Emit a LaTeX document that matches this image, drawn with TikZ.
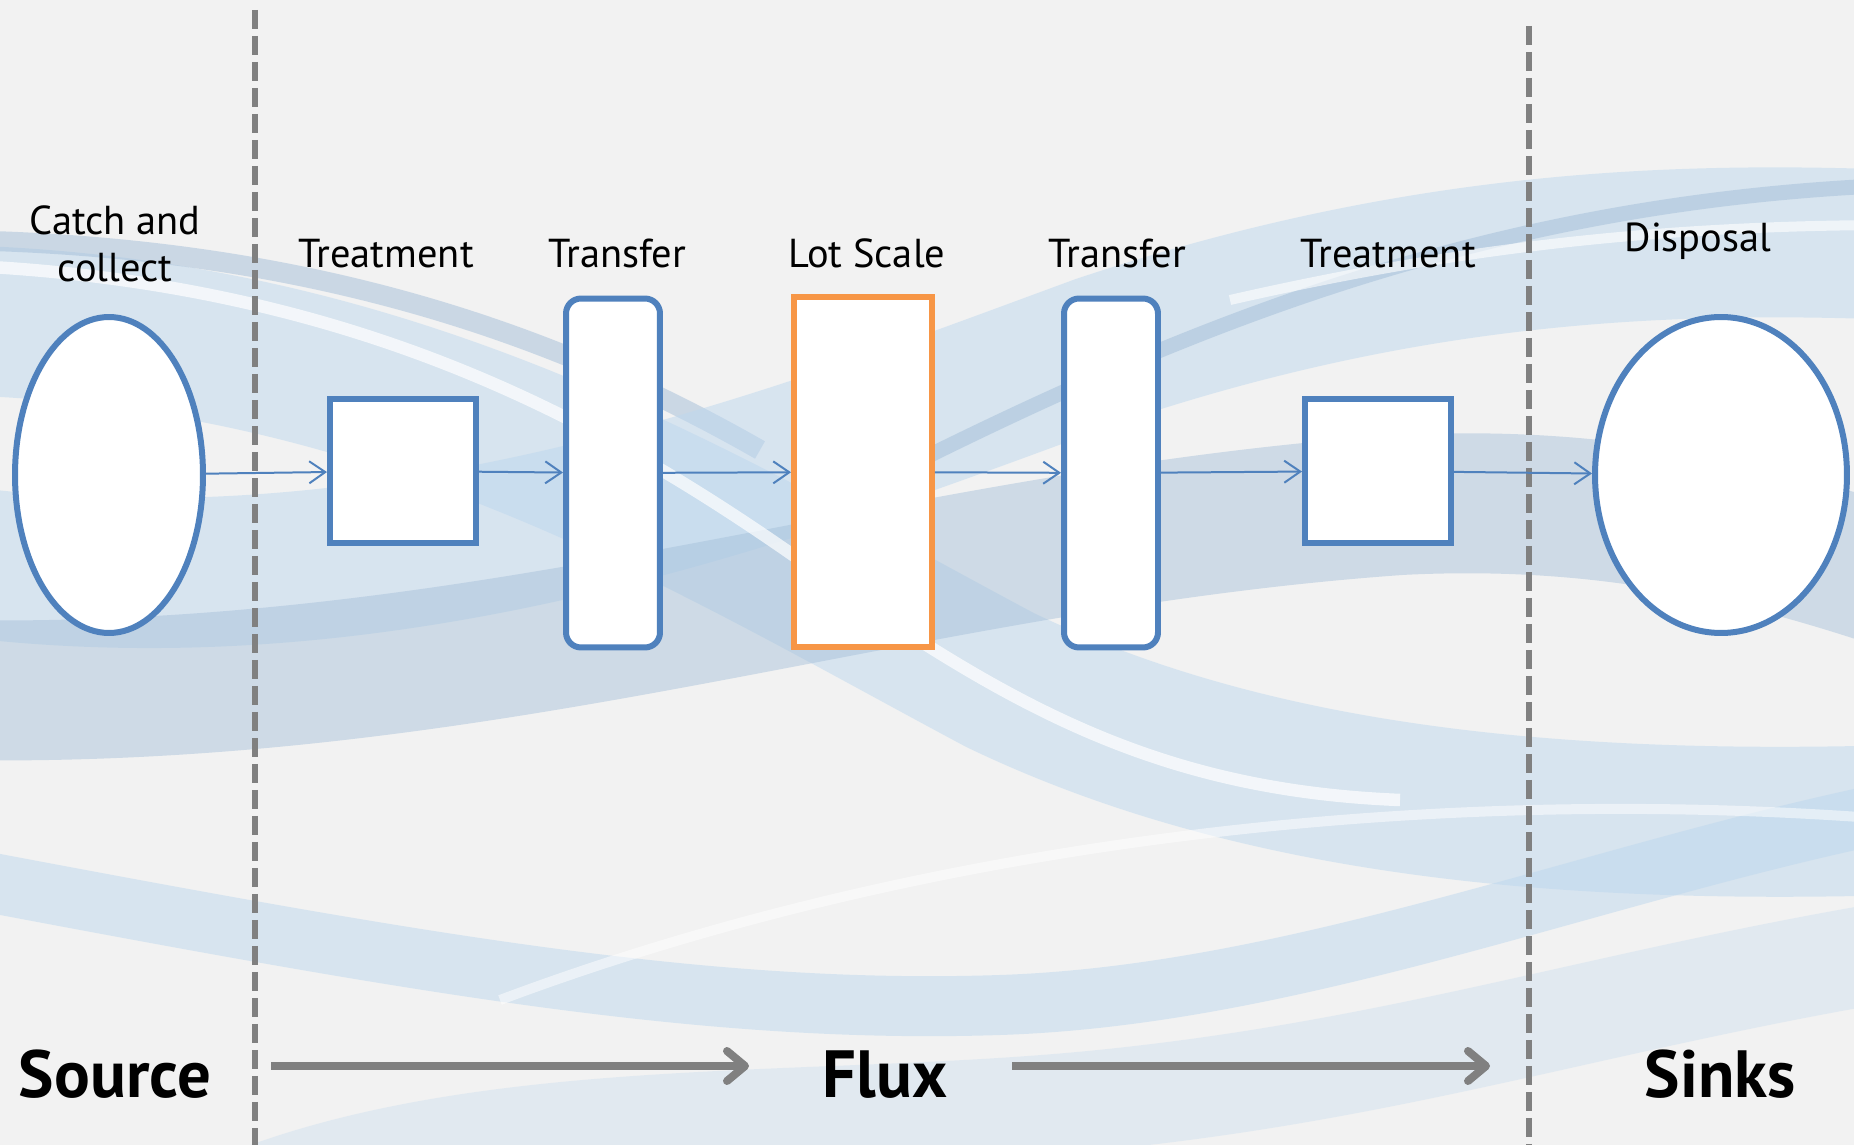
\documentclass[tikz,border=0pt]{standalone}
\usepackage{fontspec}
\setmainfont{PT Sans}
\usetikzlibrary{arrows.meta}
\usetikzlibrary{shapes}
\definecolor{bgGray}{HTML}{F2F2F2}
\definecolor{boxBlue}{HTML}{4F81BD}
\definecolor{boxOrange}{HTML}{F79646}
\definecolor{lineGray}{HTML}{808080}
\definecolor{waveLight}{HTML}{BDD7EE}
\definecolor{waveDark}{HTML}{A3BED8}
\tikzset{
        shapenode/.style={draw=boxBlue, fill=white, line width=0.12cm, inner sep=0pt},
        % Source and sink ellipses
        node_ellipse/.style={shapenode, ellipse},
        % Square treatment boxes
        node_treat/.style={shapenode, rectangle, minimum width=2.92cm, minimum height=2.88cm},
        % Tall rounded transfer boxes
        node_transfer/.style={shapenode, rectangle, rounded corners=0.3cm, minimum width=1.88cm, minimum height=6.98cm},
        % Lot scale box
        node_lot/.style={shapenode, rectangle, draw=boxOrange, minimum width=2.76cm, minimum height=7.02cm},
        % Labels over the shapes
        node_label/.style={anchor=base, inner sep=0pt, font=\fontsize{23}{27}\selectfont},
        % Zone names at the bottom
        node_zone/.style={anchor=base, inner sep=0pt, font=\fontsize{38}{44}\selectfont\bfseries},
        wave/.style={draw=waveLight, opacity=0.5}
}
\begin{document}
\begin{tikzpicture}[
            x=0.02cm, y=-0.02cm,
            flow/.style={draw=boxBlue, line width=0.04cm, -{Straight Barb[length=0.32cm, width=0.44cm]}},
            zone_arrow/.style={draw=lineGray, line width=0.16cm, -{Straight Barb[length=0.36cm, width=0.6cm, round]}},
            zone_line/.style={draw=lineGray, line width=0.13cm, dash pattern=on 0.38cm off 0.14cm}
        ]
            % background
            \fill[bgGray] (0,0) rectangle (1854,1145);
            \begin{scope}
                \clip (0,0) rectangle (1854,1145);
                \draw[wave, line width=3cm] (-50,320) .. controls (400,330) and (700,520) .. (1000,680) .. controls (1250,800) and (1550,830) .. (1900,820);
                \draw[wave, draw=waveDark, line width=0.4cm] (-50,240) .. controls (300,245) and (550,330) .. (760,450);
                \draw[wave, line width=3cm] (-50,560) .. controls (400,620) and (800,460) .. (1100,350) .. controls (1400,250) and (1650,235) .. (1900,245);
                \draw[wave, draw=waveDark, line width=0.3cm] (900,470) .. controls (1200,320) and (1500,200) .. (1900,185);
                \draw[wave, draw=waveDark, line width=2.8cm, opacity=0.45] (-50,690) .. controls (500,700) and (900,540) .. (1400,505) .. controls (1600,495) and (1750,530) .. (1900,580);
                \draw[wave, line width=1.2cm] (-50,875) .. controls (400,960) and (700,1015) .. (1000,1005) .. controls (1300,995) and (1600,870) .. (1900,810);
                \draw[wave, line width=2cm, opacity=0.3] (200,1220) .. controls (450,1100) and (800,1130) .. (1100,1100) .. controls (1400,1070) and (1600,1000) .. (1900,950);
                \draw[white, line width=0.25cm, opacity=0.7] (-50,265) .. controls (350,280) and (600,420) .. (800,560) .. controls (1000,700) and (1150,790) .. (1400,800);
                \draw[white, line width=0.2cm, opacity=0.6] (1230,300) .. controls (1450,250) and (1650,225) .. (1900,225);
                \draw[white, line width=0.2cm, opacity=0.5] (500,1000) .. controls (900,850) and (1400,780) .. (1900,820);
            \end{scope}
            \useasboundingbox (0,0) rectangle (1854,1145);

            % zone borders
            \coordinate (cut1top) at (255,10);
            \coordinate (cut1bot) at (255,1145);
            \coordinate (cut2top) at (1529,26);
            \coordinate (cut2bot) at (1529,1145);
            \draw[zone_line] (cut1top) -- (cut1bot);
            \draw[zone_line] (cut2top) -- (cut2bot);

            % process chain
            \node[node_ellipse, minimum width=3.76cm, minimum height=6.32cm] (catch) at (109,475) {};
            \node[node_treat] (treata) at (403,471) {};
            \node[node_transfer] (transa) at (613,473) {};
            \node[node_lot] (lot) at (863,472) {};
            \node[node_transfer] (transb) at (1111,473) {};
            \node[node_treat] (treatb) at (1378,471) {};
            \node[node_ellipse, minimum width=5.04cm, minimum height=6.32cm] (disposal) at (1721,475) {};

            \draw[flow] (catch) -- (treata);
            \draw[flow] (treata) -- (transa);
            \draw[flow] (transa) -- (lot);
            \draw[flow] (lot) -- (transb);
            \draw[flow] (transb) -- (treatb);
            \draw[flow] (treatb) -- (disposal);

            % labels
            \node[node_label] (lcatch) at (115,235) {Catch and};
            \node[node_label] (lcollect) at (115,282) {collect};
            \node[node_label] (ltreata) at (386,268) {Treatment};
            \node[node_label] (ltransa) at (617,268) {Transfer};
            \node[node_label] (llot) at (867,268) {Lot Scale};
            \node[node_label] (ltransb) at (1117,268) {Transfer};
            \node[node_label] (ltreatb) at (1388,268) {Treatment};
            \node[node_label] (ldisposal) at (1698,252) {Disposal};

            % zones
            \node[node_zone] (source) at (115,1097) {Source};
            \node[node_zone] (flux) at (885,1097) {Flux};
            \node[node_zone] (sinks) at (1720,1097) {Sinks};
            \coordinate (fluxa1) at (271,1066);
            \coordinate (fluxa2) at (749,1066);
            \coordinate (fluxb1) at (1012,1066);
            \coordinate (fluxb2) at (1490,1066);
            \draw[zone_arrow] (fluxa1) -- (fluxa2);
            \draw[zone_arrow] (fluxb1) -- (fluxb2);
\end{tikzpicture}
\end{document}
